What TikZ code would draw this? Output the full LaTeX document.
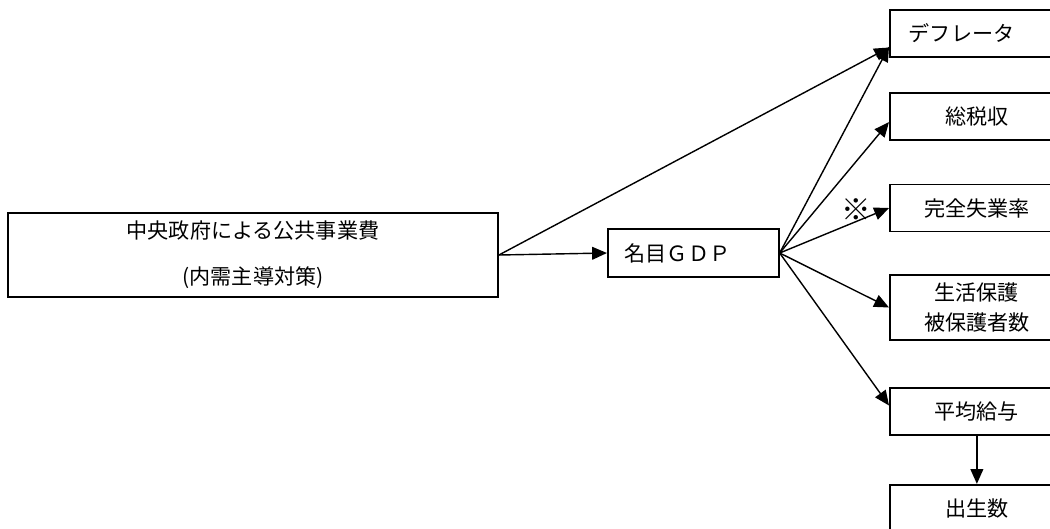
\documentclass[tikz,border=0pt]{standalone}
\usepackage{fontspec}
\setmainfont{Noto Sans CJK JP}
\usetikzlibrary{arrows.meta,positioning}

\begin{document}
\begin{tikzpicture}[auto,>={Triangle[length=0.37cm,width=0.32cm]},x=0.025cm,y=-0.025cm,font=\fontsize{15}{20}\selectfont]
	\tikzstyle{block} = [draw, rectangle, line width=1.2pt, minimum height=1.175cm, minimum width=4.35cm, inner sep=0pt]
	\tikzstyle{link} = [->, line width=1pt]
	
	\clip (0,0) rectangle (1050,528);
	
	\node [block, minimum width=12.25cm, minimum height=2.1cm, align=center] (policy) at (253,255) {中央政府による公共事業費\\[0.45cm](内需主導対策)};
	\node [block, right = 2.7cm of policy, yshift=0.05cm, minimum width=4.275cm, minimum height=1.2cm, text width=3.425cm, inner xsep=0.425cm, align=left] (gdp) {名目ＧＤＰ};
	
	\node [block, anchor=west, text width=3.4cm, inner xsep=0.475cm, align=left] (defl) at (889,33.5) {デフレータ};
	\node [block, anchor=west] (tax) at (889,116.5) {総税収};
	\node [block, anchor=west] (unemp) at (889,208) {完全失業率};
	\node [block, anchor=west, minimum height=1.625cm, align=center, font=\fontsize{15}{21}\selectfont] (welfare) at (889,307.5) {生活保護\\被保護者数};
	\node [block, anchor=west] (wage) at (889,411.5) {平均給与};
	\node [block, below = 1.2cm of wage] (births) {出生数};
	
	\draw [link] (policy.east) -- (gdp.west);
	\draw [link] (policy.east) -- ([yshift=-0.35cm]defl.west);
	\draw [link] (gdp.east) -- ([yshift=-0.33cm]defl.west);
	\draw [link] (gdp.east) -- ([yshift=-0.14cm]tax.west);
	\draw [link] (gdp.east) -- node[pos=0.7, above, inner sep=0pt, font=\fontsize{21}{21}\selectfont] (kome) {※} (unemp.west);
	\draw [link] (gdp.east) -- (welfare.west);
	\draw [link] (gdp.east) -- ([yshift=0.15cm]wage.west);
	\draw [link] (wage.south) -- (births.north);
	
\end{tikzpicture}
\end{document}
